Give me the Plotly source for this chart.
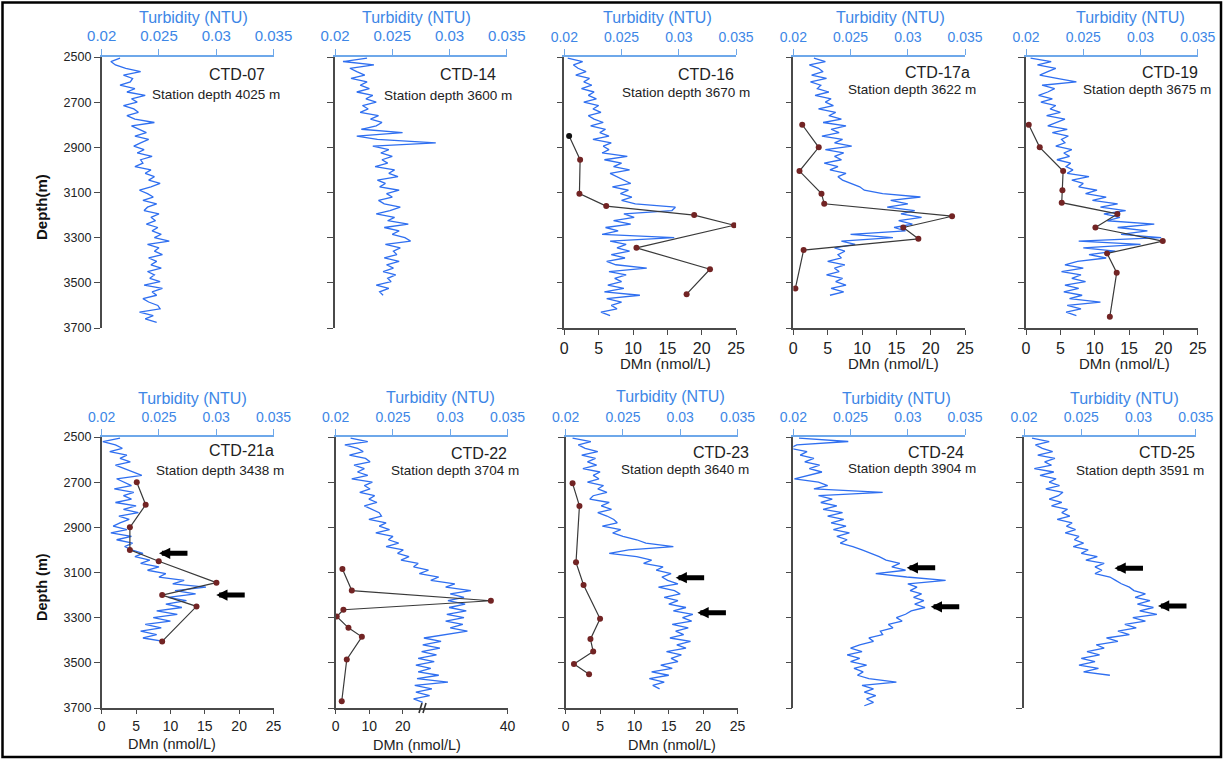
import plotly.graph_objects as go

# ---------------- data ----------------
stations = ["CTD-07", "CTD-14", "CTD-16", "CTD-17a", "CTD-19",
            "CTD-21a", "CTD-22", "CTD-23", "CTD-24", "CTD-25"]
station_depths = [4025, 3600, 3670, 3622, 3675, 3438, 3704, 3640, 3904, 3591]

depth_ticks = [2500, 2700, 2900, 3100, 3300, 3500, 3700]
turb_ticks = [0.02, 0.025, 0.03, 0.035]
turb_ticktext = ["0.02", "0.025", "0.03", "0.035"]
dmn_ticks = [0, 5, 10, 15, 20, 25]
dmn_ticks_ctd22 = [0, 10, 20, 40]

# turbidity sampled every 15 m starting at 2505 m
turb_start_depth = 2505
turb_step = 15

turb_ctd07 = [0.0216, 0.0208, 0.0212, 0.0221, 0.0234, 0.0219, 0.0227, 0.0225, 0.0216, 0.0229,
              0.0222, 0.0238, 0.0226, 0.0231, 0.0219, 0.0228, 0.0232, 0.0222, 0.0229, 0.0246,
              0.0226, 0.0233, 0.0239, 0.0229, 0.0241, 0.0234, 0.0228, 0.0237, 0.0231, 0.0244,
              0.0234, 0.0236, 0.0229, 0.0243, 0.0238, 0.0246, 0.0241, 0.0251, 0.0243, 0.0233,
              0.0240, 0.0245, 0.0236, 0.0248, 0.0240, 0.0237, 0.0250, 0.0243, 0.0247, 0.0239,
              0.0249, 0.0244, 0.0252, 0.0246, 0.0259, 0.0240, 0.0250, 0.0246, 0.0253, 0.0241,
              0.0248, 0.0243, 0.0252, 0.0240, 0.0246, 0.0242, 0.0251, 0.0237, 0.0253, 0.0244,
              0.0248, 0.0236, 0.0241, 0.0249, 0.0251, 0.0233, 0.0245, 0.0238, 0.0248]
turb_ctd14 = [0.0228, 0.0207, 0.0234, 0.0213, 0.0219, 0.0226, 0.0214, 0.0228, 0.0222, 0.0230,
              0.0219, 0.0233, 0.0227, 0.0236, 0.0224, 0.0229, 0.0222, 0.0238, 0.0231, 0.0241,
              0.0236, 0.0223, 0.0259, 0.0219, 0.0237, 0.0288, 0.0233, 0.0247, 0.0240, 0.0250,
              0.0241, 0.0246, 0.0235, 0.0252, 0.0247, 0.0255, 0.0237, 0.0244, 0.0239, 0.0256,
              0.0245, 0.0250, 0.0238, 0.0243, 0.0257, 0.0248, 0.0236, 0.0252, 0.0246, 0.0264,
              0.0243, 0.0256, 0.0250, 0.0261, 0.0266, 0.0244, 0.0257, 0.0251, 0.0254, 0.0243,
              0.0256, 0.0245, 0.0251, 0.0242, 0.0253, 0.0246, 0.0249, 0.0236, 0.0247, 0.0239,
              0.0242]
turb_ctd16 = [0.0203, 0.0216, 0.0208, 0.0212, 0.0219, 0.0210, 0.0222, 0.0217, 0.0224, 0.0215,
              0.0226, 0.0221, 0.0228, 0.0217, 0.0230, 0.0225, 0.0232, 0.0221, 0.0226, 0.0234,
              0.0223, 0.0236, 0.0231, 0.0239, 0.0225, 0.0241, 0.0234, 0.0239, 0.0233, 0.0255,
              0.0235, 0.0250, 0.0243, 0.0257, 0.0240, 0.0246, 0.0253, 0.0258, 0.0242, 0.0256,
              0.0249, 0.0259, 0.0250, 0.0262, 0.0297, 0.0294, 0.0252, 0.0261, 0.0243, 0.0258,
              0.0236, 0.0247, 0.0233, 0.0296, 0.0240, 0.0254, 0.0246, 0.0257, 0.0241, 0.0253,
              0.0237, 0.0245, 0.0272, 0.0239, 0.0254, 0.0244, 0.0250, 0.0238, 0.0252, 0.0235,
              0.0266, 0.0237, 0.0250, 0.0241, 0.0246, 0.0232, 0.0240]
turb_ctd17a = [0.0218, 0.0228, 0.0214, 0.0222, 0.0226, 0.0216, 0.0229, 0.0215, 0.0224, 0.0221,
               0.0231, 0.0219, 0.0233, 0.0228, 0.0235, 0.0222, 0.0237, 0.0231, 0.0242, 0.0226,
               0.0246, 0.0233, 0.0240, 0.0225, 0.0243, 0.0236, 0.0251, 0.0228, 0.0244, 0.0236,
               0.0242, 0.0227, 0.0239, 0.0232, 0.0246, 0.0239, 0.0243, 0.0250, 0.0258, 0.0262,
               0.0278, 0.0311, 0.0285, 0.0300, 0.0282, 0.0306, 0.0294, 0.0312, 0.0292, 0.0304,
               0.0288, 0.0298, 0.0250, 0.0287, 0.0242, 0.0254, 0.0236, 0.0245, 0.0239, 0.0242,
               0.0230, 0.0245, 0.0236, 0.0240, 0.0229, 0.0243, 0.0237, 0.0246, 0.0233, 0.0244,
               0.0232]
turb_ctd19 = [0.0204, 0.0222, 0.0210, 0.0226, 0.0219, 0.0212, 0.0227, 0.0244, 0.0214, 0.0225,
              0.0219, 0.0211, 0.0223, 0.0213, 0.0226, 0.0221, 0.0230, 0.0218, 0.0234, 0.0227,
              0.0219, 0.0236, 0.0223, 0.0237, 0.0231, 0.0234, 0.0226, 0.0240, 0.0233, 0.0238,
              0.0227, 0.0239, 0.0235, 0.0241, 0.0236, 0.0255, 0.0240, 0.0250, 0.0246, 0.0262,
              0.0252, 0.0270, 0.0258, 0.0280, 0.0265, 0.0287, 0.0268, 0.0282, 0.0271, 0.0312,
              0.0280, 0.0306, 0.0283, 0.0318, 0.0246, 0.0300, 0.0250, 0.0278, 0.0255, 0.0270,
              0.0245, 0.0234, 0.0250, 0.0231, 0.0248, 0.0240, 0.0252, 0.0234, 0.0246, 0.0233,
              0.0249, 0.0238, 0.0265, 0.0236, 0.0248, 0.0235, 0.0244]
turb_ctd21a = [0.0216, 0.0201, 0.0212, 0.0218, 0.0207, 0.0222, 0.0216, 0.0225, 0.0212, 0.0220,
               0.0228, 0.0235, 0.0213, 0.0220, 0.0226, 0.0211, 0.0228, 0.0219, 0.0226, 0.0212,
               0.0230, 0.0219, 0.0232, 0.0215, 0.0224, 0.0216, 0.0210, 0.0222, 0.0208, 0.0226,
               0.0213, 0.0227, 0.0220, 0.0226, 0.0236, 0.0229, 0.0242, 0.0234, 0.0250, 0.0240,
               0.0256, 0.0250, 0.0272, 0.0262, 0.0291, 0.0264, 0.0282, 0.0258, 0.0274, 0.0256,
               0.0270, 0.0248, 0.0266, 0.0245, 0.0260, 0.0238, 0.0252, 0.0234, 0.0248, 0.0236,
               0.0254]
turb_ctd22 = [0.0213, 0.0228, 0.0208, 0.0219, 0.0224, 0.0212, 0.0226, 0.0230, 0.0216, 0.0225,
              0.0219, 0.0228, 0.0214, 0.0232, 0.0225, 0.0230, 0.0221, 0.0234, 0.0229, 0.0236,
              0.0225, 0.0231, 0.0238, 0.0240, 0.0229, 0.0244, 0.0238, 0.0247, 0.0235, 0.0250,
              0.0246, 0.0255, 0.0244, 0.0259, 0.0254, 0.0264, 0.0257, 0.0272, 0.0268, 0.0281,
              0.0273, 0.0290, 0.0283, 0.0304, 0.0296, 0.0318, 0.0300, 0.0312, 0.0298, 0.0313,
              0.0299, 0.0314, 0.0297, 0.0312, 0.0296, 0.0311, 0.0300, 0.0315, 0.0294, 0.0277,
              0.0292, 0.0276, 0.0291, 0.0275, 0.0288, 0.0272, 0.0286, 0.0270, 0.0283, 0.0272,
              0.0290, 0.0271, 0.0298, 0.0269, 0.0284, 0.0270, 0.0282, 0.0268, 0.0276]
turb_ctd23 = [0.0206, 0.0222, 0.0211, 0.0217, 0.0228, 0.0214, 0.0226, 0.0219, 0.0227, 0.0215,
              0.0230, 0.0224, 0.0229, 0.0219, 0.0233, 0.0228, 0.0236, 0.0224, 0.0221, 0.0238,
              0.0231, 0.0240, 0.0228, 0.0236, 0.0242, 0.0245, 0.0232, 0.0248, 0.0241, 0.0250,
              0.0262, 0.0270, 0.0294, 0.0255, 0.0238, 0.0262, 0.0275, 0.0268, 0.0285, 0.0279,
              0.0292, 0.0284, 0.0289, 0.0298, 0.0281, 0.0295, 0.0300, 0.0286, 0.0298, 0.0290,
              0.0305, 0.0294, 0.0311, 0.0302, 0.0310, 0.0293, 0.0307, 0.0296, 0.0303, 0.0291,
              0.0309, 0.0297, 0.0305, 0.0288, 0.0301, 0.0292, 0.0298, 0.0283, 0.0293, 0.0275,
              0.0290, 0.0273, 0.0286, 0.0276, 0.0282]
turb_ctd24 = [0.0205, 0.0248, 0.0203, 0.0197, 0.0212, 0.0206, 0.0218, 0.0210, 0.0223, 0.0214,
              0.0225, 0.0212, 0.0201, 0.0222, 0.0230, 0.0218, 0.0278, 0.0222, 0.0234, 0.0224,
              0.0238, 0.0226, 0.0243, 0.0230, 0.0244, 0.0233, 0.0246, 0.0235, 0.0249, 0.0238,
              0.0247, 0.0241, 0.0252, 0.0260, 0.0268, 0.0275, 0.0281, 0.0293, 0.0286, 0.0298,
              0.0272, 0.0299, 0.0333, 0.0300, 0.0308, 0.0302, 0.0312, 0.0305, 0.0314, 0.0306,
              0.0315, 0.0303, 0.0298, 0.0290, 0.0295, 0.0283, 0.0287, 0.0276, 0.0278, 0.0266,
              0.0270, 0.0258, 0.0250, 0.0260, 0.0247, 0.0258, 0.0250, 0.0264, 0.0253, 0.0261,
              0.0256, 0.0266, 0.0290, 0.0260, 0.0270, 0.0262, 0.0272, 0.0264, 0.0270, 0.0262]
turb_ctd25 = [0.0207, 0.0222, 0.0210, 0.0216, 0.0225, 0.0212, 0.0227, 0.0218, 0.0224, 0.0209,
              0.0226, 0.0214, 0.0228, 0.0222, 0.0231, 0.0219, 0.0234, 0.0230, 0.0222, 0.0233,
              0.0224, 0.0238, 0.0233, 0.0240, 0.0229, 0.0242, 0.0237, 0.0245, 0.0236, 0.0248,
              0.0244, 0.0252, 0.0243, 0.0256, 0.0250, 0.0264, 0.0254, 0.0270, 0.0262, 0.0268,
              0.0262, 0.0275, 0.0280, 0.0285, 0.0292, 0.0296, 0.0306, 0.0297, 0.0310, 0.0299,
              0.0313, 0.0301, 0.0316, 0.0295, 0.0306, 0.0288, 0.0298, 0.0282, 0.0292, 0.0272,
              0.0282, 0.0263, 0.0270, 0.0255, 0.0266, 0.0250, 0.0262, 0.0248, 0.0265, 0.0252,
              0.0275]

# dissolved Mn (nmol/L) bottle samples
dmn_depth_ctd16 = [2850, 2955, 3105, 3160, 3200, 3245, 3345, 3440, 3550]
dmn_ctd16 = [0.7, 2.3, 2.2, 6.1, 18.9, 24.7, 10.5, 21.2, 17.8]
dmn_depth_ctd17a = [2800, 2900, 3005, 3105, 3150, 3205, 3255, 3305, 3355, 3525]
dmn_ctd17a = [1.3, 3.7, 0.9, 4.1, 4.5, 23.1, 16.0, 18.2, 1.5, 0.3]
dmn_depth_ctd19 = [2800, 2900, 3005, 3090, 3145, 3195, 3255, 3315, 3370, 3455, 3650]
dmn_ctd19 = [0.4, 2.0, 5.4, 5.3, 5.2, 13.3, 10.1, 19.9, 11.8, 13.2, 12.2]
dmn_depth_ctd21a = [2700, 2800, 2900, 3000, 3050, 3145, 3200, 3250, 3405]
dmn_ctd21a = [5.1, 6.4, 4.1, 4.1, 8.3, 16.7, 8.8, 13.8, 8.8]
dmn_depth_ctd22 = [3085, 3180, 3225, 3265, 3295, 3345, 3385, 3485, 3670]
dmn_ctd22 = [2.0, 4.8, 38.0, 2.3, 0.3, 3.8, 7.8, 3.3, 1.8]
dmn_depth_ctd23 = [2705, 2805, 3055, 3155, 3305, 3395, 3450, 3505, 3550]
dmn_ctd23 = [1.0, 2.0, 1.5, 2.6, 5.0, 3.6, 4.0, 1.2, 3.4]

# arrows marking turbidity maxima (turbidity, depth)
arrows_ctd21a = [(0.0250, 3015), (0.0300, 3200)]
arrows_ctd23 = [(0.0296, 3123), (0.0315, 3278)]
arrows_ctd24 = [(0.0299, 3079), (0.0320, 3252)]
arrows_ctd25 = [(0.0279, 3081), (0.0317, 3248)]

# ---------------- styling / geometry ----------------
W, H = 1225, 761
FONT = "Arial, 'Liberation Sans', sans-serif"
BLUE_LINE = "#2f6ff0"
BLUE_TEXT = "#3d86e6"
BLUE_AXIS = "#6ea8ea"
GRAY = "#4a4a4a"
DOT = "#722424"


def px(x):
    return x / W


def py(y):
    return 1 - y / H


def broken_scale(v):
    # CTD-22 DMn axis has a break between 25 and 30 nmol/L
    return v if v <= 25 else 26.45 + (v - 30) * 2.478


panel_left = [101.7, 335.0, 564.3, 793.3, 1026.0, 101.7, 335.7, 565.7, 793.3, 1024.0]
panel_width = 171.8
row_top = [57, 437]
row_bottom = [328, 708]

turb_series = [turb_ctd07, turb_ctd14, turb_ctd16, turb_ctd17a, turb_ctd19,
               turb_ctd21a, turb_ctd22, turb_ctd23, turb_ctd24, turb_ctd25]
dmn_series = {2: (dmn_depth_ctd16, dmn_ctd16), 3: (dmn_depth_ctd17a, dmn_ctd17a),
              4: (dmn_depth_ctd19, dmn_ctd19), 5: (dmn_depth_ctd21a, dmn_ctd21a),
              6: (dmn_depth_ctd22, dmn_ctd22), 7: (dmn_depth_ctd23, dmn_ctd23)}
arrow_series = {5: arrows_ctd21a, 7: arrows_ctd23, 8: arrows_ctd24, 9: arrows_ctd25}

# text label positions (px): station name right edge/y, station-depth right edge/y
name_pos = [(266.7, 75), (498.3, 75), (736, 75), (972.3, 72), (1200, 72),
            (276, 451), (509.3, 453), (750.7, 452), (966, 452), (1197.3, 452)]
sdep_pos = [(281.7, 95), (514, 95.5), (751.7, 92), (978.3, 90), (1212.7, 90),
            (286, 470.7), (521, 470), (751, 469.3), (978.3, 468.3), (1206, 470)]
turb_title_pos = [(193.3, 18), (416.7, 17.3), (657.2, 17), (890.5, 17), (1130, 17),
                  (192.5, 398.3), (440, 397.3), (670.5, 396), (896.7, 398.3), (1124.7, 398)]
dmn_title_pos = {2: (665.5, 363), 3: (893.3, 363), 4: (1124, 363),
                 5: (171.7, 744), 6: (416.7, 745), 7: (671.7, 745)}

fig = go.Figure()
layout = {}
annotations = []
shapes = []
axis_counter = 0


def axname(n, kind):
    return kind + ("" if n == 1 else str(n))


for i in range(10):
    row = 0 if i < 5 else 1
    axis_counter += 1
    xt = axis_counter
    ya = i + 1
    xdom = [px(panel_left[i]), px(panel_left[i] + panel_width)]
    ydom = [py(row_bottom[row]), py(row_top[row])]
    tick_size = 15 if i in (0, 1) else 14

    layout[axname(xt, "xaxis")] = dict(
        domain=xdom, anchor=axname(ya, "y"), side="top", range=[0.02, 0.035],
        tickvals=turb_ticks, ticktext=turb_ticktext, showgrid=False, zeroline=False,
        showline=True, linecolor=BLUE_AXIS, linewidth=1.5, ticks="outside", ticklen=6,
        tickwidth=1.2, tickcolor=BLUE_AXIS, tickfont=dict(size=tick_size, color=BLUE_TEXT, family=FONT),
        ticklabelstandoff=2, automargin=False,
    )
    layout[axname(ya, "yaxis")] = dict(
        domain=ydom, anchor=axname(xt, "x"), range=[3700, 2500], tickvals=depth_ticks,
        showticklabels=(i in (0, 5)), showgrid=False, zeroline=False, showline=True,
        linecolor=GRAY, linewidth=1.6, ticks="outside", ticklen=6, tickwidth=1.3,
        tickcolor=GRAY, tickfont=dict(size=12.5, color="#222", family=FONT), automargin=False,
    )

    depths = [turb_start_depth + turb_step * k for k in range(len(turb_series[i]))]
    fig.add_trace(go.Scatter(
        x=turb_series[i], y=depths, mode="lines",
        line=dict(color=BLUE_LINE, width=1.3),
        xaxis=axname(xt, "x"), yaxis=axname(ya, "y"), hoverinfo="skip",
    ))

    if i in dmn_series:
        axis_counter += 1
        xb = axis_counter
        ddep, dval = dmn_series[i]
        if i == 6:
            xvals = [broken_scale(v) for v in dval]
            rng = [0, broken_scale(40)]
            tv = [broken_scale(t) for t in dmn_ticks_ctd22]
            tt = [str(t) for t in dmn_ticks_ctd22]
        else:
            xvals = dval
            rng = [0, 25]
            tv = dmn_ticks
            tt = [str(t) for t in dmn_ticks]
        layout[axname(xb, "xaxis")] = dict(
            overlaying=axname(xt, "x"), anchor=axname(ya, "y"), side="bottom",
            range=rng, tickvals=tv, ticktext=tt, showgrid=False, zeroline=False,
            showline=True, linecolor=GRAY, linewidth=1.6, ticks="outside",
            ticklen=5 if row == 0 else 4, tickwidth=1.3, tickcolor=GRAY, automargin=False,
            tickfont=dict(size=16 if row == 0 else 14, color="#222", family=FONT),
        )
        colors = [DOT] * len(dval)
        if i == 2:
            colors[0] = "#111111"
        fig.add_trace(go.Scatter(
            x=xvals, y=ddep, mode="lines+markers",
            line=dict(color="#3a3a3a", width=1.2),
            marker=dict(color=colors, size=6),
            xaxis=axname(xb, "x"), yaxis=axname(ya, "y"), hoverinfo="skip",
        ))
        tx, ty = dmn_title_pos[i]
        annotations.append(dict(text="DMn (nmol/L)", x=px(tx), y=py(ty), xref="paper", yref="paper",
                                showarrow=False, xanchor="center", yanchor="middle",
                                font=dict(size=15 if row == 0 else 14.5, color="#222", family=FONT)))

    # station labels
    nx, ny = name_pos[i]
    annotations.append(dict(text=stations[i], x=px(nx), y=py(ny), xref="paper", yref="paper",
                            showarrow=False, xanchor="right", yanchor="middle",
                            font=dict(size=16, color="#222", family=FONT)))
    sx, sy = sdep_pos[i]
    annotations.append(dict(text=f"Station depth {station_depths[i]} m", x=px(sx), y=py(sy),
                            xref="paper", yref="paper", showarrow=False, xanchor="right",
                            yanchor="middle", font=dict(size=13.5, color="#222", family=FONT)))
    tx, ty = turb_title_pos[i]
    annotations.append(dict(text="Turbidity (NTU)", x=px(tx), y=py(ty), xref="paper", yref="paper",
                            showarrow=False, xanchor="center", yanchor="middle",
                            font=dict(size=16, color=BLUE_TEXT, family=FONT)))

    if i in arrow_series:
        for (ax_t, ax_d) in arrow_series[i]:
            annotations.append(dict(text="", x=ax_t, y=ax_d, xref=axname(xt, "x"), yref=axname(ya, "y"),
                                    showarrow=True, ax=30, ay=0, arrowhead=2, arrowsize=0.45,
                                    arrowwidth=5, arrowcolor="black", standoff=0))

# depth axis titles
annotations.append(dict(text="<b>Depth(m)</b>", x=px(42), y=py(207), xref="paper", yref="paper",
                        xanchor="center", yanchor="middle", showarrow=False, textangle=-90,
                        font=dict(size=15, color="#111", family=FONT)))
annotations.append(dict(text="<b>Depth (m)</b>", x=px(42), y=py(587), xref="paper", yref="paper",
                        xanchor="center", yanchor="middle", showarrow=False, textangle=-90,
                        font=dict(size=14.5, color="#111", family=FONT)))

# axis-break marks on CTD-22 DMn axis
for dx in (0, 4):
    shapes.append(dict(type="line", xref="paper", yref="paper",
                       x0=px(419 + dx), y0=py(713), x1=px(422 + dx), y1=py(703),
                       line=dict(color="#333", width=1.6)))
# outer frame
shapes.append(dict(type="rect", xref="paper", yref="paper",
                   x0=px(2.5), y0=py(2.5), x1=px(1221), y1=py(757),
                   line=dict(color="black", width=2.5)))

fig.update_layout(
    width=W, height=H, margin=dict(l=0, r=0, t=0, b=0, pad=0, autoexpand=False),
    paper_bgcolor="white", plot_bgcolor="white", showlegend=False,
    annotations=annotations, shapes=shapes, **layout,
)
fig.write_html("out.html")
